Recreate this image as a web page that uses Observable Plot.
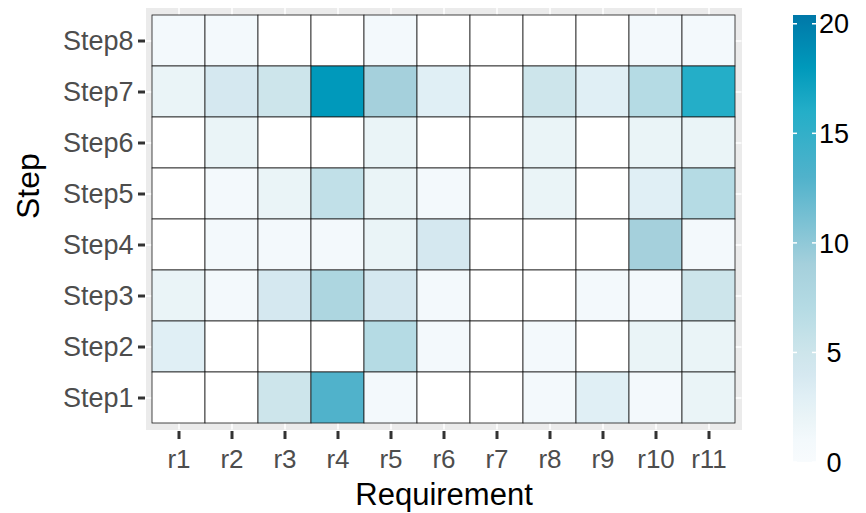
<!DOCTYPE html>
<html>
<head>
<meta charset="utf-8">
<script src="https://cdn.jsdelivr.net/npm/d3@7"></script>
<script src="https://cdn.jsdelivr.net/npm/@observablehq/plot@0.6"></script>
<style>
  body { margin: 0; background: white; }
  svg { overflow: visible; }
</style>
</head>
<body>
<div id="chart"></div>
<script>
// ---- data ----
const requirements = ["r1","r2","r3","r4","r5","r6","r7","r8","r9","r10","r11"];
const steps = ["Step8","Step7","Step6","Step5","Step4","Step3","Step2","Step1"];
const step8 = [1, 1, 0, 0, 1, 0, 0, 0, 0, 1, 1];
const step7 = [2, 4, 5, 18, 9, 3, 0, 5, 3, 7, 16];
const step6 = [0, 2, 0, 0, 2, 0, 0, 2, 0, 2, 2];
const step5 = [0, 1, 2, 6, 2, 1, 0, 2, 0, 3, 7];
const step4 = [0, 1, 1, 1, 2, 4, 0, 0, 0, 9, 1];
const step3 = [2, 1, 4, 8, 4, 1, 0, 0, 1, 1, 5];
const step2 = [3, 0, 0, 0, 7, 1, 0, 1, 0, 2, 2];
const step1 = [0, 0, 5, 13, 1, 0, 0, 1, 3, 1, 2];
const legendTicks = [0, 5, 10, 15, 20];

const rows = {Step8: step8, Step7: step7, Step6: step6, Step5: step5,
              Step4: step4, Step3: step3, Step2: step2, Step1: step1};
const data = [];
for (const s of steps) rows[s].forEach((v, i) => data.push({step: s, req: requirements[i], value: v}));

// ---- colour ramp (style) ----
const colDomain = [0, 1, 2, 3, 4, 5, 7, 9, 13, 16, 18, 20.4];
const colRange = ["#ffffff", "#f3f9fc", "#eaf4f7", "#e0eff5", "#d5e8f0", "#cde5eb",
                  "#b5dbe4", "#a5d0dc", "#50b2cb", "#24aec8", "#0099bb", "#0078a8"];

const FONT = "Liberation Sans, Arial, sans-serif";
const W = 866, H = 513;
const chart = Plot.plot({
  width: W, height: H,
  marginLeft: 150, marginRight: 129, marginTop: 12, marginBottom: 88,
  style: {fontFamily: FONT, background: "white"},
  x: {domain: requirements, padding: 0, label: null},
  y: {domain: steps, padding: 0, label: null},
  color: {type: "linear", domain: colDomain, range: colRange},
  marks: [
    Plot.frame({fill: "#ebebeb", stroke: null, inset: -4.5}),
    Plot.ruleX(requirements, {x: d => d, stroke: "white", strokeWidth: 1.6, insetTop: -4.5, insetBottom: -4.5}),
    Plot.ruleY(steps, {y: d => d, stroke: "white", strokeWidth: 1.6, insetLeft: -4.5, insetRight: -4.5}),
    Plot.cell(data, {x: "req", y: "step", fill: "value", stroke: "#1a1a1a", strokeWidth: 0.8}),
    Plot.axisY({tickSize: 7, dx: -5, tickPadding: 5, strokeWidth: 3, stroke: "#333333",
                fontSize: 27, fill: "#4d4d4d", label: null}),
    Plot.axisX({tickSize: 8, dy: 6, tickPadding: 10, strokeWidth: 3, stroke: "#333333",
                fontSize: 26, fill: "#4d4d4d", label: null}),
    Plot.text(["Requirement"], {frameAnchor: "bottom", dy: 79, fontSize: 31, fill: "black"}),
    Plot.text(["Step"], {frameAnchor: "left", dx: -122, rotate: -90, fontSize: 32, fill: "black"})
  ]
});
document.getElementById("chart").appendChild(chart);

// ---- colour bar legend ----
const svg = d3.select(chart);
const ly = d3.scaleLinear().domain([0, 20.4]).range([462, 15]);
const defs = svg.append("defs");
const grad = defs.append("linearGradient").attr("id", "cbar")
  .attr("x1", 0).attr("y1", 1).attr("x2", 0).attr("y2", 0);
colDomain.forEach((v, i) => grad.append("stop")
  .attr("offset", v / 20.4).attr("stop-color", i === 0 ? "#f8fbfd" : colRange[i]));
const lg = svg.append("g");
lg.append("rect").attr("x", 793).attr("y", ly(20.4)).attr("width", 23)
  .attr("height", ly(0) - ly(20.4)).attr("fill", "url(#cbar)");
legendTicks.forEach(t => {
  lg.append("line").attr("x1", 793).attr("x2", 797).attr("y1", ly(t)).attr("y2", ly(t))
    .attr("stroke", "white").attr("stroke-width", 1.5);
  lg.append("line").attr("x1", 812).attr("x2", 816).attr("y1", ly(t)).attr("y2", ly(t))
    .attr("stroke", "white").attr("stroke-width", 1.5);
  lg.append("text").attr("x", 834).attr("y", ly(t)).attr("dy", "0.36em")
    .attr("font-size", 27).attr("fill", "black")
    .attr("font-family", FONT).text(t);
});
</script>
</body>
</html>
